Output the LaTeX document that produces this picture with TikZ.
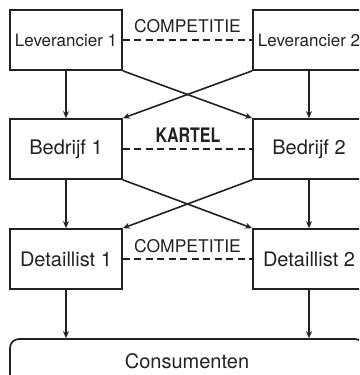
\documentclass[tikz,border=0pt]{standalone}
\usepackage{fontspec}
\setmainfont{TeX Gyre Heros}
\usetikzlibrary{arrows.meta}
\definecolor{ink}{HTML}{222222}
\begin{document}
\begin{tikzpicture}[x=1pt,y=-1pt,
  boxs/.style={draw=ink, line width=1.7pt, minimum width=112pt, minimum height=60pt, inner sep=0pt, text=ink},
  smallf/.style={font=\fontsize{17}{19}\selectfont},
  bigf/.style={font=\fontsize{20}{23}\selectfont},
  arr/.style={draw=ink, line width=1.6pt, -{Stealth[length=7pt,width=6pt]}},
  dashline/.style={draw=ink, line width=1.6pt, dash pattern=on 7pt off 4.5pt},
  lbl/.style={text=ink, inner sep=0pt}]
\useasboundingbox (0,0) rectangle (359,375);
\clip (0,0) rectangle (359,375);
% boxes
\node[boxs, smallf] (L1) at (66,40) {Leverancier 1};
\node[boxs, smallf] (L2) at (309,40) {Leverancier 2};
\node[boxs, bigf] (B1) at (66,149) {Bedrijf 1};
\node[boxs, bigf] (B2) at (309,149) {Bedrijf 2};
\node[boxs, bigf] (D1) at (66,259) {Detaillist 1};
\node[boxs, bigf] (D2) at (309,259) {Detaillist 2};
\node[draw=ink, line width=1.7pt, rounded corners=9pt, minimum width=354pt, minimum height=48pt, inner sep=0pt, bigf, text=ink] (C) at (187,363) {\raisebox{3pt}{Consumenten}};
% labels
\node[lbl, font=\fontsize{17.5}{20}\selectfont, anchor=base] (c1) at (187.5,32) {COMPETITIE};
\node[lbl, font=\fontsize{20}{22}\selectfont\bfseries, anchor=base] (k) at (188,142) {\scalebox{0.8}[1]{KARTEL}};
\node[lbl, font=\fontsize{17.5}{20}\selectfont, anchor=base] (c2) at (187.5,252) {COMPETITIE};
% dashed relations
\draw[dashline] (L1.east) -- (L2.west);
\draw[dashline] (B1.east) -- (B2.west);
\draw[dashline] (D1.east) -- (D2.west);
% vertical arrows
\draw[arr] (L1.south) -- (B1.north);
\draw[arr] (L2.south) -- (B2.north);
\draw[arr] (B1.south) -- (D1.north);
\draw[arr] (B2.south) -- (D2.north);
\draw[arr] (D1.south) -- (D1.south |- C.north);
\draw[arr] (D2.south) -- (D2.south |- C.north);
% crossing arrows
\draw[arr] (L1.south east) -- (B2.north west);
\draw[arr] (L2.south west) -- (B1.north east);
\draw[arr] (B1.south east) -- (D2.north west);
\draw[arr] (B2.south west) -- (D1.north east);
\end{tikzpicture}
\end{document}
